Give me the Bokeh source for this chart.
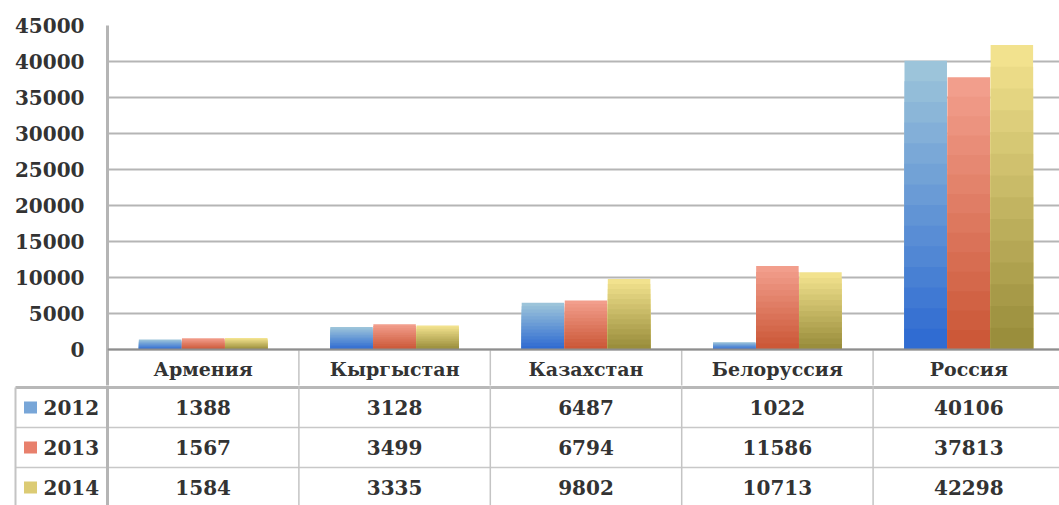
from bokeh.plotting import figure
from bokeh.models import Range1d, FixedTicker, Span
from bokeh.core.properties import value
from bokeh.embed import file_html
from bokeh.resources import INLINE

# ---- data ----
categories = ["Армения", "Кыргыстан", "Казахстан", "Белоруссия", "Россия"]
years = ["2012", "2013", "2014"]
v2012 = [1388, 3128, 6487, 1022, 40106]
v2013 = [1567, 3499, 6794, 11586, 37813]
v2014 = [1584, 3335, 9802, 10713, 42298]
y_ticks = [0, 5000, 10000, 15000, 20000, 25000, 30000, 35000, 40000, 45000]

# ---- style ----
series = [v2012, v2013, v2014]
light = [(0x9c, 0xc4, 0xda), (0xf2, 0x9e, 0x8c), (0xf2, 0xe2, 0x8e)]
dark = [(0x30, 0x6c, 0xd2), (0xcc, 0x58, 0x38), (0x9a, 0x8e, 0x3c)]
key_col = ["#78a6d8", "#e8806c", "#dccb74"]
FONT = value("DejaVu Serif")
TXT = "#333333"
GRID = "#b5b5b5"
TABLE_LINE = "#c4c4c4"

W = 1059
left_px = 107     # frame left (page x)
cat_px = 191.4
x_end = (W - left_px) / cat_px
top_px = 25
plot_px = 324      # pixels from 0 to 45000
pad_px = 36        # header row of the table, drawn inside the chart figure
ymax = y_ticks[-1]
upp = ymax / plot_px           # data units per pixel
ypad = pad_px * upp
H1 = top_px + plot_px + pad_px

centers = [i + 0.5 for i in range(len(categories))]
inner = list(range(1, len(categories)))

p = figure(width=W, height=H1, output_backend="svg",
           toolbar_location=None, x_range=Range1d(0, x_end),
           y_range=Range1d(-ypad, ymax), x_axis_location=None,
           min_border_left=left_px, min_border_right=0, min_border_top=top_px,
           min_border_bottom=0)
p.outline_line_color = None
p.xgrid.visible = False
p.ygrid.grid_line_color = GRID
p.ygrid.grid_line_width = 2
p.yaxis.ticker = FixedTicker(ticks=y_ticks)
p.yaxis.axis_line_color = "#b5b5b5"
p.yaxis.axis_line_width = 3
p.yaxis.major_tick_line_color = None
p.yaxis.minor_tick_line_color = None
p.yaxis.major_label_standoff = 17
p.yaxis.major_label_text_font = "DejaVu Serif"
p.yaxis.major_label_text_font_style = "bold"
p.yaxis.major_label_text_font_size = "20px"
p.yaxis.major_label_text_color = TXT

offsets = [-0.225, 0.0, 0.225]
bw = 0.222
N = 14
for s, vals in enumerate(series):
    xs = [i + 0.5 + offsets[s] for i in range(len(categories))]
    for k in range(N):
        t = k / (N - 1)
        c = tuple(int(light[s][j] * (1 - t) + dark[s][j] * t) for j in range(3))
        col = "#%02x%02x%02x" % c
        tops = [v * (1 - k / N) for v in vals]
        p.vbar(x=xs, top=tops, width=bw, fill_color=col, line_color=None)

# header row: column separators and category names
p.segment(x0=inner, y0=[-2 * ypad] * len(inner), x1=inner, y1=[0] * len(inner),
          line_color=TABLE_LINE, line_width=1.5)
p.add_layout(Span(location=0, dimension="width", line_color="#8e8e8e", line_width=2))
p.text(x=centers, y=[-19 * upp] * len(centers), text=categories, text_font=FONT,
       text_font_style="bold", text_font_size="19px", text_color=TXT,
       text_align="center", text_baseline="middle")

# ---- data table ----
tab_frame_left = 13
tab_left = 15
x_start = -((left_px - tab_frame_left) / cat_px)
x_tab_left = -((left_px - tab_left) / cat_px)
H2 = 505 - H1
y_top = pad_px
t = figure(width=W, height=H2, output_backend="svg", toolbar_location=None,
           x_range=Range1d(x_start, x_end), y_range=Range1d(y_top + H2, y_top),
           x_axis_location=None, y_axis_location=None,
           min_border_left=tab_frame_left, min_border_right=0, min_border_top=0,
           min_border_bottom=0)
t.outline_line_color = None
t.grid.visible = False

row_h = 40
head_h = 38
row_lines = [head_h + r * row_h for r in range(len(years))]
# horizontal lines
t.segment(x0=[x_tab_left], y0=[row_lines[0]], x1=[x_end], y1=[row_lines[0]],
          line_color="#b8b8b8", line_width=3)
t.segment(x0=[x_tab_left] * 2, y0=row_lines[1:], x1=[x_end] * 2, y1=row_lines[1:],
          line_color="#c8c8c8", line_width=1.5)
# vertical lines
t.segment(x0=[0], y0=[0], x1=[0], y1=[200], line_color="#b5b5b5", line_width=3)
t.segment(x0=inner, y0=[0] * len(inner), x1=inner, y1=[200] * len(inner),
          line_color=TABLE_LINE, line_width=1.5)
t.segment(x0=[x_tab_left], y0=[row_lines[0]], x1=[x_tab_left], y1=[200],
          line_color=TABLE_LINE, line_width=2)

for r, vals in enumerate(series):
    yc = row_lines[r] + row_h / 2
    t.text(x=centers, y=[yc] * len(centers), text=[str(v) for v in vals],
           text_font=FONT, text_font_style="bold", text_font_size="20px",
           text_color=TXT, text_align="center", text_baseline="middle")
ycs = [rl + row_h / 2 for rl in row_lines]
key_x = -((left_px - 30) / cat_px)
lab_x = -((left_px - 43) / cat_px)
t.rect(x=[key_x] * 3, y=ycs, width=13, height=12, width_units="screen",
       height_units="screen", fill_color=key_col, line_color=None)
t.text(x=[lab_x] * 3, y=ycs, text=years, text_font=FONT, text_font_style="bold",
       text_font_size="20px", text_color=TXT, text_align="left",
       text_baseline="middle")

open("out.html", "w").write(file_html([p, t], INLINE))
